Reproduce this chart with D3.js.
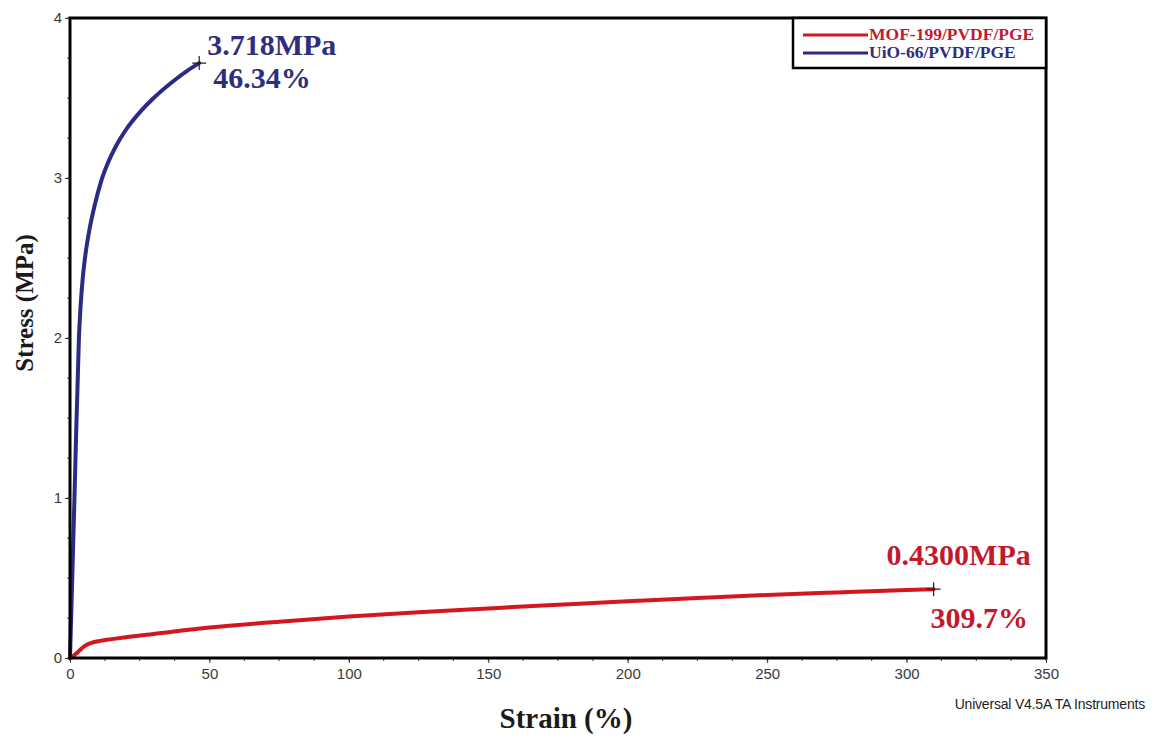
<!DOCTYPE html>
<html>
<head>
<meta charset="utf-8">
<script src="https://cdn.jsdelivr.net/npm/d3@7"></script>
<style>
  html, body { margin: 0; padding: 0; background: #fff; }
  svg { display: block; }
</style>
</head>
<body>
<svg id="chart" width="1156" height="740"></svg>
<script>
// Tensile test curves: strain (%) vs. stress (MPa)
const seriesNames = ["MOF-199/PVDF/PGE", "UiO-66/PVDF/PGE"];
const seriesColors = ["#d4161e", "#2b2a84"];
const labelColors = ["#c21a2c", "#2f2e7c"];

const mofStrain = [0, 1, 2, 3.6, 5, 7.2, 10.8, 15, 20, 30, 50, 75, 100, 125, 150, 175, 200, 225, 250, 275, 300, 309.7];
const mofStress = [0, 0.01, 0.025, 0.05, 0.072, 0.092, 0.107, 0.118, 0.13, 0.15, 0.19, 0.227, 0.259, 0.286, 0.31, 0.333, 0.355, 0.375, 0.394, 0.41, 0.425, 0.43];

const uioStrain = [0, 1.6, 3.2, 3.8, 4.6, 5.6, 7, 9, 11, 13.5, 16.5, 20, 25, 30, 37, 42, 46.34];
const uioStress = [0, 1.0, 2.0, 2.2, 2.38, 2.53, 2.68, 2.84, 2.97, 3.09, 3.2, 3.3, 3.41, 3.5, 3.605, 3.67, 3.718];

const xTicks = [0, 50, 100, 150, 200, 250, 300, 350];
const yTicks = [0, 1, 2, 3, 4];

// Break points (strain %, stress MPa) and their labels
const breakPoints = [
  { strain: 309.7, stress: 0.43, top: "0.4300MPa", bottom: "309.7%" },
  { strain: 46.34, stress: 3.718, top: "3.718MPa", bottom: "46.34%" }
];

const svg = d3.select("#chart");
const plotLeft = 70, plotRight = 1046, plotTop = 18, plotBottom = 658;

const x = d3.scaleLinear().domain([0, 350]).range([plotLeft, plotRight]);
const y = d3.scaleLinear().domain([0, 4]).range([plotBottom, plotTop]);

const serif = "'Liberation Serif', 'Times New Roman', serif";
const sans = "'Liberation Sans', Arial, sans-serif";

// Minor ticks
const xMinor = d3.range(0, 350.01, 12.5);
const yMinor = d3.range(0, 4.001, 0.25);

const xAxis = d3.axisBottom(x).tickValues(xTicks).tickSize(5).tickPadding(5).tickFormat(d3.format("d"));
const yAxis = d3.axisLeft(y).tickValues(yTicks).tickSize(5).tickPadding(3).tickFormat(d3.format("d"));

const gx = svg.append("g").attr("transform", `translate(0,${plotBottom})`).call(xAxis);
const gy = svg.append("g").attr("transform", `translate(${plotLeft},0)`).call(yAxis);
[gx, gy].forEach(g => {
  g.select(".domain").remove();
  g.selectAll(".tick line").attr("stroke", "#333").attr("stroke-width", 1);
  g.selectAll(".tick text").attr("font-family", sans).attr("font-size", 15).attr("fill", "#3a3a3a");
});

svg.append("g").selectAll("line").data(xMinor).join("line")
  .attr("x1", d => x(d)).attr("x2", d => x(d))
  .attr("y1", plotBottom).attr("y2", plotBottom + 3)
  .attr("stroke", "#444").attr("stroke-width", 1);
svg.append("g").selectAll("line").data(yMinor).join("line")
  .attr("y1", d => y(d)).attr("y2", d => y(d))
  .attr("x1", plotLeft).attr("x2", plotLeft - 3)
  .attr("stroke", "#444").attr("stroke-width", 1);

// Curves
const line = d3.line().x(d => x(d[0])).y(d => y(d[1])).curve(d3.curveMonotoneX);
const series = [
  d3.zip(mofStrain, mofStress),
  d3.zip(uioStrain, uioStress)
];
svg.append("g").selectAll("path").data(series).join("path")
  .attr("d", line)
  .attr("fill", "none")
  .attr("stroke", (d, i) => seriesColors[i])
  .attr("stroke-width", 4)
  .attr("stroke-linejoin", "round")
  .attr("stroke-linecap", "round");

// Plot frame
svg.append("rect")
  .attr("x", plotLeft).attr("y", plotTop)
  .attr("width", plotRight - plotLeft).attr("height", plotBottom - plotTop)
  .attr("fill", "none").attr("stroke", "#000").attr("stroke-width", 3);

// Break markers
breakPoints.forEach(p => {
  const px = x(p.strain), py = y(p.stress);
  svg.append("path")
    .attr("d", `M${px - 7},${py}H${px + 7}M${px},${py - 7}V${py + 7}`)
    .attr("stroke", "#222").attr("stroke-width", 1.2);
});

// Break labels
const annot = svg.append("g").attr("font-family", serif).attr("font-weight", "bold").attr("font-size", 30);
annot.append("text").attr("x", x(breakPoints[0].strain) - 47).attr("y", y(breakPoints[0].stress) - 24)
  .attr("fill", labelColors[0]).text(breakPoints[0].top);
annot.append("text").attr("x", x(breakPoints[0].strain) - 3).attr("y", y(breakPoints[0].stress) + 39)
  .attr("fill", labelColors[0]).text(breakPoints[0].bottom);
annot.append("text").attr("x", x(breakPoints[1].strain) + 8).attr("y", y(breakPoints[1].stress) - 8)
  .attr("fill", labelColors[1]).text(breakPoints[1].top);
annot.append("text").attr("x", x(breakPoints[1].strain) + 14).attr("y", y(breakPoints[1].stress) + 25)
  .attr("fill", labelColors[1]).text(breakPoints[1].bottom);

// Legend
const lg = svg.append("g");
lg.append("rect").attr("x", 793).attr("y", plotTop).attr("width", plotRight - 793).attr("height", 50)
  .attr("fill", "#fff").attr("stroke", "#000").attr("stroke-width", 2.5);
seriesNames.forEach((name, i) => {
  const ly = 35 + i * 18;
  lg.append("line").attr("x1", 803).attr("x2", 868).attr("y1", ly).attr("y2", ly)
    .attr("stroke", seriesColors[i]).attr("stroke-width", 3);
  lg.append("text").attr("x", 869).attr("y", ly + 5)
    .attr("font-family", serif).attr("font-weight", "bold").attr("font-size", 17.5)
    .attr("fill", labelColors[i]).text(name);
});

// Axis titles
svg.append("text").attr("x", 566).attr("y", 728).attr("text-anchor", "middle")
  .attr("font-family", serif).attr("font-weight", "bold").attr("font-size", 29)
  .attr("fill", "#1a1a1a").text("Strain (%)");
svg.append("text").attr("transform", "translate(33,303) rotate(-90)").attr("text-anchor", "middle")
  .attr("font-family", serif).attr("font-weight", "bold").attr("font-size", 25)
  .attr("fill", "#1a1a1a").text("Stress (MPa)");

// Instrument footer
svg.append("text").attr("x", 1145).attr("y", 709).attr("text-anchor", "end")
  .attr("font-family", sans).attr("font-size", 14).attr("fill", "#222")
  .attr("letter-spacing", -0.2)
  .text("Universal V4.5A TA Instruments");
</script>
</body>
</html>
